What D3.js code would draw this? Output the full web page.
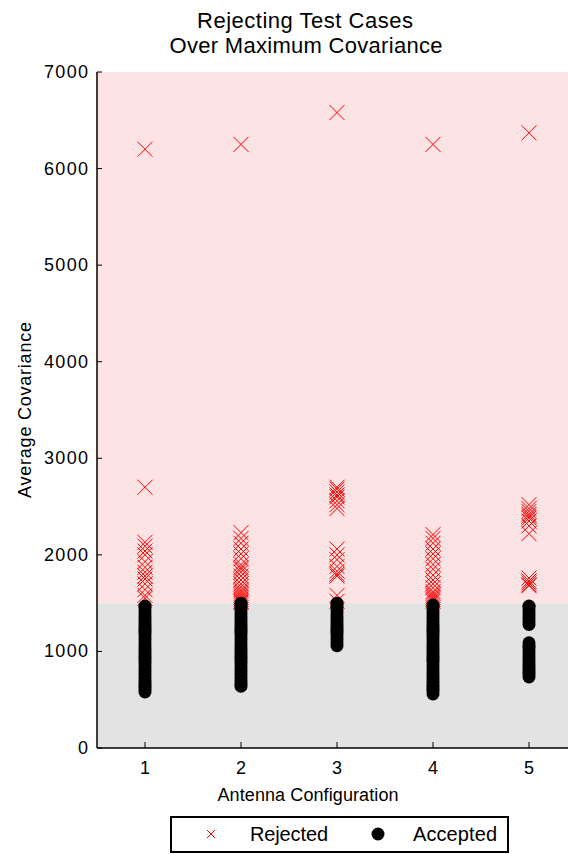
<!DOCTYPE html>
<html><head><meta charset="utf-8">
<script src="https://cdn.jsdelivr.net/npm/d3@7"></script>
<style>body{margin:0;background:#fff}svg{display:block}text{font-family:"Liberation Sans",Arial,sans-serif}</style>
</head><body><svg id="c" width="568" height="854"></svg>
<script>
const configs = [1, 2, 3, 4, 5];
const yTicks = [0, 1000, 2000, 3000, 4000, 5000, 6000, 7000];
const threshold = 1500;
const rejected1 = [6200, 2700, 2130, 2090, 2040, 2000, 1930, 1870, 1820, 1780, 1750, 1700, 1640, 1580, 1550];
const rejected2 = [6250, 2230, 2170, 2120, 2060, 2010, 1960, 1900, 1870, 1850, 1820, 1780, 1740, 1700, 1670, 1640, 1620, 1600, 1580, 1560, 1540, 1520, 1510];
const rejected3 = [6580, 2700, 2680, 2650, 2620, 2600, 2560, 2520, 2480, 2060, 2000, 1950, 1880, 1830, 1800, 1780, 1580, 1520];
const rejected4 = [6250, 2210, 2170, 2120, 2060, 2010, 1960, 1900, 1850, 1790, 1740, 1700, 1660, 1620, 1600, 1580, 1560, 1540, 1520];
const rejected5 = [6370, 2520, 2480, 2450, 2420, 2400, 2380, 2350, 2300, 2220, 1760, 1730, 1710, 1690, 1680];
const accepted1 = [580, 610, 640, 670, 700, 730, 760, 790, 820, 850, 880, 910, 940, 970, 1000, 1030, 1060, 1090, 1120, 1150, 1180, 1210, 1240, 1270, 1300, 1330, 1360, 1390, 1420, 1450, 1470];
const accepted2 = [640, 670, 700, 730, 760, 790, 820, 850, 880, 910, 940, 970, 1000, 1030, 1060, 1090, 1120, 1150, 1180, 1210, 1240, 1270, 1300, 1330, 1360, 1390, 1420, 1450, 1480, 1500];
const accepted3 = [1060, 1090, 1120, 1150, 1180, 1210, 1240, 1270, 1300, 1330, 1360, 1390, 1420, 1450, 1480, 1500];
const accepted4 = [560, 590, 620, 650, 680, 710, 740, 770, 800, 830, 860, 890, 920, 950, 980, 1010, 1040, 1070, 1100, 1130, 1160, 1190, 1220, 1250, 1280, 1310, 1340, 1370, 1400, 1430, 1460, 1480];
const accepted5 = [735, 765, 795, 825, 855, 885, 915, 945, 975, 1005, 1035, 1060, 1090, 1280, 1310, 1340, 1370, 1400, 1430, 1460, 1470];

const rejected = [rejected1, rejected2, rejected3, rejected4, rejected5];
const accepted = [accepted1, accepted2, accepted3, accepted4, accepted5];

const svg = d3.select("#c");
const x = d3.scaleLinear().domain([0.5, 5.5]).range([97, 577]);
const y = d3.scaleLinear().domain([0, 7000]).range([748, 72]);
const right = 568;

// shaded regions
svg.append("rect").attr("x", x(0.5)).attr("y", y(7000)).attr("width", right - x(0.5)).attr("height", y(threshold) - y(7000)).attr("fill", "#fde3e3");
svg.append("rect").attr("x", x(0.5)).attr("y", y(threshold)).attr("width", right - x(0.5)).attr("height", y(0) - y(threshold)).attr("fill", "#e3e3e3");

// rejected crosses
const cs = 7.5;
const rPts = [];
rejected.forEach((arr, i) => arr.forEach(v => rPts.push([configs[i], v])));
const rg = svg.append("g").attr("stroke", "#ff0000").attr("stroke-width", 1).attr("fill", "none");
rg.selectAll("path").data(rPts).join("path")
  .attr("d", d => { const cx = x(d[0]), cy = y(d[1]); return `M${cx-cs},${cy-cs}L${cx+cs},${cy+cs}M${cx-cs},${cy+cs}L${cx+cs},${cy-cs}`; });

// accepted circles
const aPts = [];
accepted.forEach((arr, i) => arr.forEach(v => aPts.push([configs[i], v])));
svg.append("g").selectAll("circle").data(aPts).join("circle")
  .attr("cx", d => x(d[0])).attr("cy", d => y(d[1])).attr("r", 6.5).attr("fill", "#000");

// axes
const ax = svg.append("g").attr("font-size", 18);
ax.append("line").attr("x1", x(0.5)).attr("x2", x(0.5)).attr("y1", y(7000)).attr("y2", y(0)).attr("stroke", "#000").attr("stroke-width", 1.5);
ax.append("line").attr("x1", x(0.5)).attr("x2", right).attr("y1", y(0)).attr("y2", y(0)).attr("stroke", "#000").attr("stroke-width", 1.5);
yTicks.forEach(t => {
  ax.append("line").attr("x1", x(0.5)).attr("x2", x(0.5) + 5).attr("y1", y(t)).attr("y2", y(t)).attr("stroke", "#000");
  const tx = ax.append("text").attr("x", x(0.5) - 9).attr("y", y(t) + 6).attr("text-anchor", "end").text(t);
  if (t > 0) tx.attr("textLength", 44).attr("lengthAdjust", "spacing");
});
configs.forEach(c => {
  ax.append("line").attr("x1", x(c)).attr("x2", x(c)).attr("y1", y(0)).attr("y2", y(0) - 6).attr("stroke", "#000");
  ax.append("text").attr("x", x(c)).attr("y", y(0) + 26).attr("text-anchor", "middle").text(c);
});
svg.append("text").attr("x", 308).attr("y", 801).attr("text-anchor", "middle").attr("font-size", 18)
  .attr("textLength", 181).attr("lengthAdjust", "spacing").text("Antenna Configuration");
svg.append("text").attr("transform", "translate(31,410) rotate(-90)").attr("text-anchor", "middle").attr("font-size", 18)
  .attr("textLength", 176).attr("lengthAdjust", "spacing").text("Average Covariance");

// title
svg.append("text").attr("x", 305).attr("y", 28).attr("text-anchor", "middle").attr("font-size", 22)
  .attr("textLength", 216).attr("lengthAdjust", "spacing").text("Rejecting Test Cases");
svg.append("text").attr("x", 306).attr("y", 53).attr("text-anchor", "middle").attr("font-size", 22)
  .attr("textLength", 273).attr("lengthAdjust", "spacing").text("Over Maximum Covariance");

// legend
const lg = svg.append("g");
lg.append("rect").attr("x", 171).attr("y", 817).attr("width", 337).attr("height", 35).attr("fill", "#fff").attr("stroke", "#000").attr("stroke-width", 2);
const lx = 211, ly = 834;
lg.append("path").attr("d", `M${lx-4},${ly-4}L${lx+4},${ly+4}M${lx-4},${ly+4}L${lx+4},${ly-4}`).attr("stroke", "#ff0000").attr("stroke-width", 1);
lg.append("text").attr("x", 250).attr("y", ly + 7).attr("font-size", 20).attr("textLength", 78).attr("lengthAdjust", "spacing").text("Rejected");
lg.append("circle").attr("cx", 378).attr("cy", ly).attr("r", 6.5).attr("fill", "#000");
lg.append("text").attr("x", 413).attr("y", ly + 7).attr("font-size", 20).attr("textLength", 84).attr("lengthAdjust", "spacing").text("Accepted");
</script></body></html>
